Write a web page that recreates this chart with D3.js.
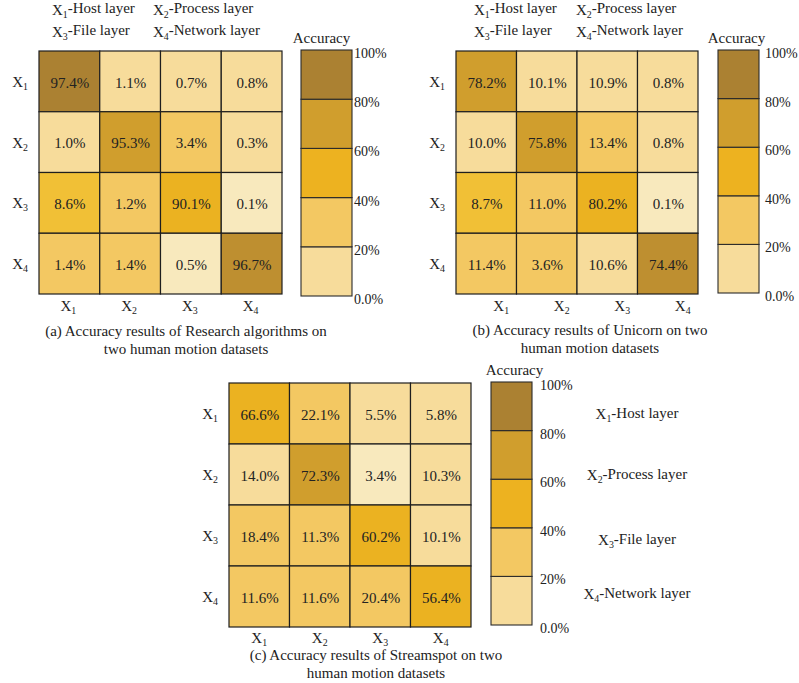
<!DOCTYPE html>
<html>
<head>
<meta charset="utf-8">
<script src="https://cdn.jsdelivr.net/npm/d3@7"></script>
<style>
  html, body { margin: 0; padding: 0; background: #fff; }
  svg { display: block; font-family: "Liberation Serif", "Times New Roman", serif; }
</style>
</head>
<body>
<svg id="chart" width="799" height="683"></svg>
<script>
// Layer categories (rows = actual, columns = predicted)
const layers = ["1", "2", "3", "4"];
const layerNames = ["Host layer", "Process layer", "File layer", "Network layer"];

// Accuracy (%) per panel, row-major
const valuesA = [
  [97.4, 1.1, 0.7, 0.8],
  [1.0, 95.3, 3.4, 0.3],
  [8.6, 1.2, 90.1, 0.1],
  [1.4, 1.4, 0.5, 96.7]
];
const valuesB = [
  [78.2, 10.1, 10.9, 0.8],
  [10.0, 75.8, 13.4, 0.8],
  [8.7, 11.0, 80.2, 0.1],
  [11.4, 3.6, 10.6, 74.4]
];
const valuesC = [
  [66.6, 22.1, 5.5, 5.8],
  [14.0, 72.3, 3.4, 10.3],
  [18.4, 11.3, 60.2, 10.1],
  [11.6, 11.6, 20.4, 56.4]
];

// Shade tier of each cell (0 = palest ... 7 = darkest)
const tierA = [[7, 1, 1, 1], [1, 5, 2, 1], [3, 2, 4, 0], [2, 2, 0, 6]];
const tierB = [[5, 1, 1, 1], [1, 5, 2, 1], [3, 2, 4, 0], [2, 2, 1, 6]];
const tierC = [[4, 2, 1, 1], [1, 5, 0, 1], [2, 2, 4, 1], [2, 2, 2, 4]];

// Colour bar stops
const legendStops = [0, 20, 40, 60, 80, 100];
const legendTicks = ["0.0%", "20%", "40%", "60%", "80%", "100%"];

const captionsA = ["(a) Accuracy results of Research algorithms on", "two human motion datasets"];
const captionsB = ["(b) Accuracy results of Unicorn on two", "human motion datasets"];
const captionsC = ["(c) Accuracy results of Streamspot on two", "human motion datasets"];

const tierColor = d3.scaleOrdinal()
  .domain(d3.range(8))
  .range(["#F8E9BD", "#F7DC9B", "#F3C862", "#F1C036", "#EBB221", "#D09E2D", "#BE8F30", "#AB8132"]);

const bandColor = d3.scaleThreshold()
  .domain([20, 40, 60, 80])
  .range(["#F7DC9B", "#F3C862", "#EDB220", "#D09E2D", "#AB8132"]);

const svg = d3.select("#chart");
svg.append("rect").attr("width", 799).attr("height", 683).attr("fill", "#fff");

// "X" with a numeric subscript, optionally followed by text
function subLabel(sel, idx, rest) {
  sel.append("tspan").text("X");
  sel.append("tspan").attr("font-size", "0.66em").attr("dy", "0.3em").text(idx);
  if (rest) sel.append("tspan").attr("dy", "-0.3em").text(rest);
  return sel;
}

function heatmap(opt) {
  const g = svg.append("g");
  const x = d3.scaleBand().domain(layers).range([opt.x0, opt.x1]);
  const y = d3.scaleBand().domain(layers).range([opt.y0, opt.y1]);

  const cells = [];
  opt.values.forEach((row, i) => row.forEach((v, j) => {
    cells.push({ r: layers[i], c: layers[j], v: v, t: opt.tiers[i][j] });
  }));

  g.selectAll("rect.cell").data(cells).join("rect")
    .attr("class", "cell")
    .attr("x", d => x(d.c)).attr("y", d => y(d.r))
    .attr("width", x.bandwidth()).attr("height", y.bandwidth())
    .attr("fill", d => tierColor(d.t))
    .attr("stroke", "#1e1e1e").attr("stroke-width", 1.2);

  g.selectAll("text.val").data(cells).join("text")
    .attr("class", "val")
    .attr("x", d => x(d.c) + x.bandwidth() / 2 + 0.5)
    .attr("y", d => y(d.r) + y.bandwidth() / 2 + 1)
    .attr("dy", "0.35em")
    .attr("text-anchor", "middle")
    .attr("font-size", 15).attr("fill", "#222")
    .text(d => d.v.toFixed(1) + "%");

  // row labels
  layers.forEach(k => {
    const t = g.append("text")
      .attr("x", opt.x0 - 11)
      .attr("y", y(k) + y.bandwidth() / 2 + 5.5)
      .attr("text-anchor", "end")
      .attr("font-size", 15).attr("fill", "#222");
    subLabel(t, k);
  });
  // column labels
  layers.forEach(k => {
    const t = g.append("text")
      .attr("x", x(k) + x.bandwidth() / 2 + (opt.colShift || 0))
      .attr("y", opt.y1 + opt.colGap)
      .attr("text-anchor", "middle")
      .attr("font-size", 15).attr("fill", "#222");
    subLabel(t, k);
  });

  // caption
  opt.caption.forEach((line, i) => {
    g.append("text")
      .attr("x", opt.capX).attr("y", opt.capY + i * 17.5)
      .attr("text-anchor", "middle")
      .attr("font-size", 15).attr("fill", "#222")
      .text(line);
  });

  // colour bar
  const ly = d3.scaleLinear().domain([0, 100]).range([opt.ly1, opt.ly0]);
  const bands = d3.pairs(legendStops);
  g.selectAll("rect.band").data(bands).join("rect")
    .attr("class", "band")
    .attr("x", opt.lx).attr("width", opt.lw)
    .attr("y", d => ly(d[1])).attr("height", d => ly(d[0]) - ly(d[1]))
    .attr("fill", d => bandColor((d[0] + d[1]) / 2))
    .attr("stroke", "#2a2a2a").attr("stroke-width", 1.1);

  g.selectAll("text.tick").data(legendStops).join("text")
    .attr("class", "tick")
    .attr("x", opt.lx + opt.lw + opt.tickGap)
    .attr("y", (d, i) => ly(d) + 3)
    .attr("dy", "0.35em")
    .attr("font-size", 14).attr("fill", "#222")
    .text((d, i) => legendTicks[i]);

  g.append("text")
    .attr("x", opt.lx + opt.lw / 2 + opt.titleShift)
    .attr("y", opt.ly0 - 7)
    .attr("text-anchor", "middle")
    .attr("font-size", 15).attr("fill", "#222")
    .text("Accuracy");

  return { g, y };
}

// layer key above a panel (two rows of two)
function topKey(x1, x2) {
  const pos = [[x1, 15], [x2, 15], [x1, 37], [x2, 37]];
  layers.forEach((k, i) => {
    const t = svg.append("text")
      .attr("x", pos[i][0]).attr("y", pos[i][1])
      .attr("font-size", 15).attr("fill", "#222");
    subLabel(t, k, "-" + layerNames[i]);
  });
}

heatmap({
  values: valuesA, tiers: tierA,
  x0: 39, x1: 282, y0: 51, y1: 294, colGap: 17, colShift: -1,
  caption: captionsA, capX: 186, capY: 336,
  lx: 301, lw: 51, ly0: 50, ly1: 296, tickGap: 2, titleShift: -5
});
topKey(52, 153);

heatmap({
  values: valuesB, tiers: tierB,
  x0: 456, x1: 698, y0: 51, y1: 294, colGap: 17, colShift: 15,
  caption: captionsB, capX: 590, capY: 335,
  lx: 718, lw: 41, ly0: 50, ly1: 293, tickGap: 6, titleShift: -2
});
topKey(474, 576);

heatmap({
  values: valuesC, tiers: tierC,
  x0: 229, x1: 471, y0: 383, y1: 627, colGap: 16, colShift: 0,
  caption: captionsC, capX: 376, capY: 660,
  lx: 491, lw: 41, ly0: 382, ly1: 625, tickGap: 8, titleShift: 3
});

// layer key to the right of panel (c), one entry per row
const sideY = [414, 475, 540, 594];
layers.forEach((k, i) => {
  const t = svg.append("text")
    .attr("x", 637).attr("y", sideY[i])
    .attr("dy", "0.35em")
    .attr("text-anchor", "middle")
    .attr("font-size", 15).attr("fill", "#222");
  subLabel(t, k, "-" + layerNames[i]);
});
</script>
</body>
</html>
